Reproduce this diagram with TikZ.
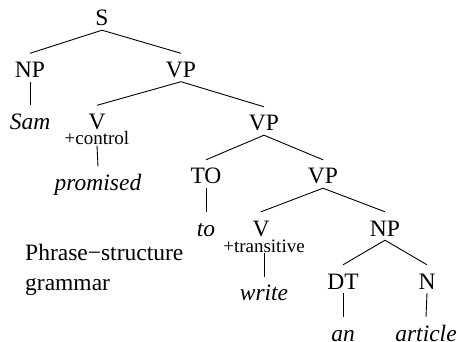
\documentclass[tikz,border=0pt]{standalone}
\usepackage{fontspec}
\setmainfont{Liberation Serif}
\begin{document}
\begin{tikzpicture}[x=1pt,y=-1pt,
  cat/.style={inner sep=0pt,anchor=base,text height=24pt,text depth=4pt,font=\fontsize{23.5}{28}\selectfont},
  word/.style={cat,font=\fontsize{23.5}{28}\selectfont\itshape},
  feat/.style={inner sep=0pt,anchor=base,text height=14pt,text depth=1pt,font=\fontsize{19}{22}\selectfont},
  br/.style={line width=0.9pt}]
\useasboundingbox (0,0) rectangle (458,342);
\node[cat] (S) at (102,26) {S};
\node[cat] (NP) at (30,77.5) {NP};
\node[cat] (VP) at (181,77.5) {VP};
\node[word] (Sam) at (30,129.5) {Sam};
\node[cat] (V) at (97,129.5) {V};
\node[feat] (Vf) at (97,144.5) {+control};
\node[word] (promised) at (98,190.7) {promised};
\node[cat] (VPb) at (264,131) {VP};
\node[cat] (TO) at (206,184) {TO};
\node[cat] (VPc) at (323,184) {VP};
\node[word] (to) at (206,236) {to};
\node[cat] (Vb) at (261,236) {V};
\node[feat] (Vbf) at (264,252) {+transitive};
\node[word] (write) at (264,300.7) {write};
\node[cat] (NPb) at (385,236) {NP};
\node[cat] (DT) at (343,289) {DT};
\node[cat] (N) at (427,289) {N};
\node[word] (an) at (343,341) {an};
\node[word] (article) at (426,341) {article};
\node[inner sep=0pt,anchor=base west,align=left,font=\fontsize{23.5}{30}\selectfont] (label) at (25,290) {Phrase−structure\\grammar};
\draw[br] (S.south) -- (NP.north);
\draw[br] (S.south) -- (VP.north);
\draw[br] (NP.south) -- (Sam.north);
\draw[br] (VP.south) -- (V.north);
\draw[br] (VP.south) -- (VPb.north);
\draw[br] (Vf.south) -- (promised.north);
\draw[br] (VPb.south) -- (TO.north);
\draw[br] (VPb.south) -- (VPc.north);
\draw[br] (TO.south) -- (to.north);
\draw[br] (VPc.south) -- (Vb.north);
\draw[br] (VPc.south) -- (NPb.north);
\draw[br] (Vbf.south) -- (write.north);
\draw[br] (NPb.south) -- (DT.north);
\draw[br] (NPb.south) -- (N.north);
\draw[br] (DT.south) -- (an.north);
\draw[br] (N.south) -- (article.north);
\end{tikzpicture}
\end{document}
